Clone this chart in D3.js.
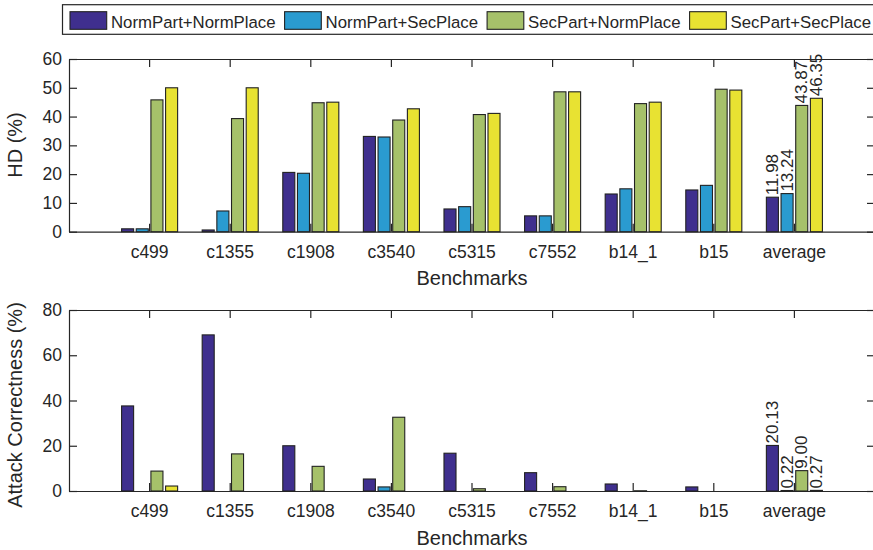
<!DOCTYPE html>
<html><head><meta charset="utf-8">
<script src="https://cdn.jsdelivr.net/npm/d3@7"></script>
<style>
html,body{margin:0;padding:0;background:#fff;}
svg{display:block;font-family:"Liberation Sans",Arial,Helvetica,sans-serif;}
</style></head>
<body><svg id="chart" width="873" height="550"></svg>
<script>
// ---- data ----
const categories = ["c499","c1355","c1908","c3540","c5315","c7552","b14_1","b15","average"];
const seriesNames = ["NormPart+NormPlace","NormPart+SecPlace","SecPart+NormPlace","SecPart+SecPlace"];
const seriesColors = ["#3f2f8e","#2a9bd0","#a6c16a","#e8e232"];

const hdNormNorm = [1.0, 0.6, 20.6, 33.1, 7.9, 5.5, 13.1, 14.5, 11.98];
const hdNormSec  = [1.0, 7.2, 20.3, 32.9, 8.7, 5.5, 14.9, 16.1, 13.24];
const hdSecNorm  = [45.8, 39.3, 44.8, 38.8, 40.7, 48.6, 44.5, 49.5, 43.87];
const hdSecSec   = [50.0, 50.0, 45.0, 42.7, 41.1, 48.6, 45.0, 49.2, 46.35];

const acNormNorm = [37.6, 69.0, 20.0, 5.3, 16.7, 8.1, 3.1, 1.8, 20.13];
const acNormSec  = [0, 0, 0, 1.8, 0, 0, 0, 0, 0.22];
const acSecNorm  = [8.8, 16.4, 10.9, 32.6, 1.0, 1.9, 0.1, 0, 9.00];
const acSecSec   = [2.2, 0, 0, 0, 0, 0, 0, 0, 0.27];

const hdTicks = [0,10,20,30,40,50,60];
const acTicks = [0,20,40,60,80];
const xLabel = "Benchmarks";

// ---- layout ----
const svg = d3.select("#chart");
const L = 69, R = 875;
const ink = "#262626";
const tickFont = 17.5, labelFont = 20, valFont = 17, legFont = 16.8;

const x = d3.scaleBand().domain(categories).range([L, R]).paddingInner(0).paddingOuter(0.5);
const groupW = x.bandwidth() * 0.728;
const xs = d3.scaleBand().domain(seriesNames).range([-groupW/2, groupW/2]).paddingInner(0.18).paddingOuter(0.09);

function panel(top, bottom, yMax, ticks, seriesData, yTitle, yTitleY, xTitleY) {
  const y = d3.scaleLinear().domain([0, yMax]).range([bottom, top]);
  const g = svg.append("g");

  const styleAxis = (a) => {
    a.select(".domain").attr("stroke", ink).attr("stroke-width", 1.2);
    a.selectAll(".tick line").attr("stroke", ink).attr("stroke-width", 1.2);
    a.selectAll(".tick text").attr("fill", ink).style("font-size", tickFont + "px")
      .style("font-family", '"Liberation Sans",Arial,sans-serif');
  };
  const ax1 = g.append("g").attr("transform", `translate(0,${bottom})`)
    .call(d3.axisBottom(x).tickSize(-8).tickSizeOuter(0).tickPadding(14));
  styleAxis(ax1);
  const ax2 = g.append("g").attr("transform", `translate(0,${top})`)
    .call(d3.axisTop(x).tickSize(-8).tickSizeOuter(0).tickFormat(""));
  styleAxis(ax2);
  const ay1 = g.append("g").attr("transform", `translate(${L},0)`)
    .call(d3.axisLeft(y).tickValues(ticks).tickSize(-8).tickSizeOuter(0).tickPadding(7));
  styleAxis(ay1);
  const ay2 = g.append("g").attr("transform", `translate(${R},0)`)
    .call(d3.axisRight(y).tickValues(ticks).tickSize(-8).tickSizeOuter(0).tickFormat(""));
  styleAxis(ay2);

  seriesData.forEach((vals, si) => {
    const name = seriesNames[si];
    g.append("g").selectAll("rect").data(vals).join("rect")
      .attr("x", (d, i) => x(categories[i]) + x.bandwidth()/2 + xs(name))
      .attr("width", xs.bandwidth())
      .attr("y", d => y(d))
      .attr("height", d => y(0) - y(d))
      .attr("fill", seriesColors[si])
      .attr("stroke", "#222")
      .attr("stroke-width", 1.1);
    const last = vals.length - 1;
    const cx = x(categories[last]) + x.bandwidth()/2 + xs(name) + xs.bandwidth()/2;
    const ty = y(vals[last]) - 2;
    g.append("text")
      .attr("transform", `translate(${cx},${ty}) rotate(-90)`)
      .attr("text-anchor", "start")
      .attr("dominant-baseline", "central")
      .attr("fill", ink)
      .style("font-size", valFont + "px")
      .text(d3.format(".2f")(vals[last]));
  });

  g.append("text")
    .attr("transform", `translate(22,${yTitleY}) rotate(-90)`)
    .attr("text-anchor", "middle").attr("fill", ink)
    .style("font-size", labelFont + "px").text(yTitle);
  g.append("text")
    .attr("x", (L + R) / 2).attr("y", xTitleY)
    .attr("text-anchor", "middle").attr("fill", ink)
    .style("font-size", labelFont + "px").text(xLabel);
}

panel(59, 231.7, 60, hdTicks, [hdNormNorm, hdNormSec, hdSecNorm, hdSecSec], "HD (%)", 145, 285);
panel(310, 491, 80, acTicks, [acNormNorm, acNormSec, acSecNorm, acSecSec], "Attack Correctness (%)", 405, 545);

// ---- legend ----
const lg = svg.append("g");
lg.append("rect").attr("x", 62.5).attr("y", 4.7).attr("width", 830).attr("height", 29.6)
  .attr("fill", "#fff").attr("stroke", ink).attr("stroke-width", 1.2);
let lx = 70;
seriesNames.forEach((name, i) => {
  lg.append("rect").attr("x", lx).attr("y", 11.7).attr("width", 36.7).attr("height", 17.6)
    .attr("fill", seriesColors[i]).attr("stroke", "#222").attr("stroke-width", 1.1);
  const t = lg.append("text").attr("x", lx + 41).attr("y", 28.3).attr("fill", ink)
    .style("font-size", legFont + "px").text(name);
  lx = lx + 41 + t.node().getComputedTextLength() + 9;
});
</script>
</body></html>
